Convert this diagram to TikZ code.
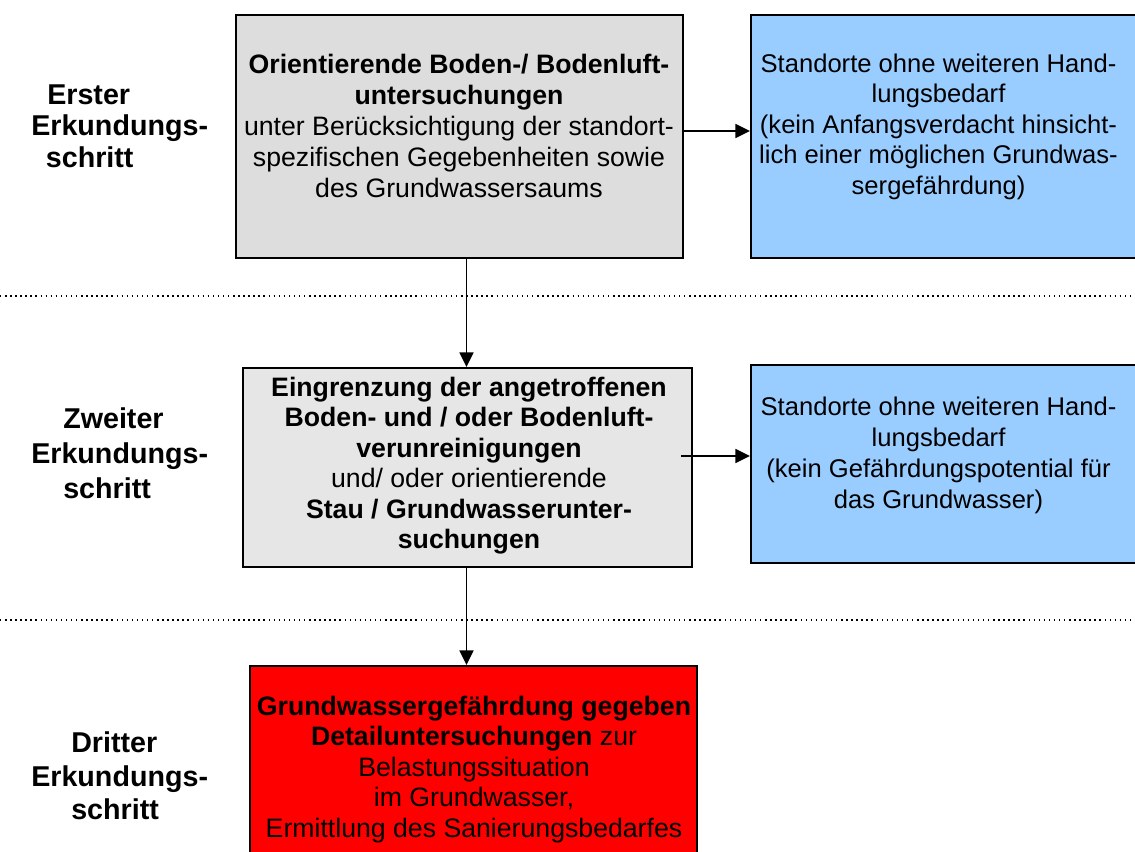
\documentclass[tikz,border=0pt]{standalone}
\usepackage{fontspec}
\setmainfont{Liberation Sans}
\usetikzlibrary{arrows.meta}
\definecolor{boxgrayA}{HTML}{DDDDDD}
\definecolor{boxgrayB}{HTML}{E6E6E6}
\definecolor{boxblue}{HTML}{99CCFF}
\definecolor{boxred}{HTML}{FF0000}
\tikzset{
  panel/.style={draw=black, line width=1.5pt, inner sep=0pt, rectangle},
  boxtext/.style={inner sep=0pt, align=center, text=black},
  steplabel/.style={inner sep=0pt, align=left, anchor=west, font=\bfseries},
  arr/.style={line width=1.3pt, -{Triangle[length=11pt,width=10.5pt]}},
  dotline/.style={line width=1.1pt, dash pattern=on 1.1pt off 2.7pt}
}
\begin{document}
\begin{tikzpicture}[x=0.75pt,y=-0.75pt]
\clip (0,0) rectangle (1135,852);
\fill[white] (0,0) rectangle (1135,852);

% dotted separators
\draw[dotline] (0,296) -- (1135,296);
\draw[dotline] (0,620) -- (1135,620);

% boxes
\node[panel, fill=boxgrayA, minimum width=335.25pt, minimum height=182.25pt] (b1) at (459.5,136.5) {};
\node[panel, fill=boxblue, minimum width=295.5pt, minimum height=182.25pt] (b2) at (948,136.5) {};
\node[panel, fill=boxgrayB, minimum width=336.75pt, minimum height=149.25pt] (b3) at (467.5,467.5) {};
\node[panel, fill=boxblue, minimum width=295.5pt, minimum height=148.5pt] (b4) at (948,464) {};
\node[panel, fill=boxred, minimum width=335.25pt, minimum height=175.5pt] (b5) at (473.5,783) {};

% box texts
\node[boxtext, font=\fontsize{20pt}{23.1pt}\selectfont] (t1) at (459,126)
  {\textbf{Orientierende Boden-/ Bodenluft-}\\\textbf{untersuchungen}\\unter Berücksichtigung der standort-\\spezifischen Gegebenheiten sowie\\des Grundwassersaums};
\node[boxtext, font=\fontsize{19.2pt}{22.9pt}\selectfont] (t2) at (938.5,126.5)
  {Standorte ohne weiteren Hand-\\lungsbedarf\\(kein Anfangsverdacht hinsicht-\\lich einer möglichen Grundwas-\\sergefährdung)};
\node[boxtext, font=\fontsize{20pt}{22.9pt}\selectfont] (t3) at (469,465.5)
  {\textbf{Eingrenzung der angetroffenen}\\\textbf{Boden- und / oder Bodenluft-}\\\textbf{verunreinigungen}\\und/ oder orientierende\\\textbf{Stau / Grundwasserunter-}\\\textbf{suchungen}};
\node[boxtext, font=\fontsize{19.2pt}{23.2pt}\selectfont] (t4) at (938.5,455)
  {Standorte ohne weiteren Hand-\\lungsbedarf\\(kein Gefährdungspotential für\\das Grundwasser)};
\node[boxtext, font=\fontsize{20pt}{22.9pt}\selectfont] (t5) at (474,769.5)
  {\textbf{Grundwassergefährdung gegeben}\\\textbf{Detailuntersuchungen} zur\\Belastungssituation\\im Grundwasser,\\Ermittlung des Sanierungsbedarfes};

% step labels
\node[steplabel, font=\bfseries\fontsize{21.5pt}{23.6pt}\selectfont] (l1) at (31,126)
  {\hspace*{12pt}Erster\\Erkundungs-\\\hspace*{11pt}schritt};
\node[steplabel, font=\bfseries\fontsize{21.5pt}{26.25pt}\selectfont] (l2) at (31,453.5)
  {\hspace*{24pt}Zweiter\\Erkundungs-\\\hspace*{24pt}schritt};
\node[steplabel, font=\bfseries\fontsize{21.5pt}{25pt}\selectfont] (l3) at (31,776)
  {\hspace*{30pt}Dritter\\Erkundungs-\\\hspace*{30pt}schritt};

% connectors
\coordinate (vx) at (466.5,0);
\coordinate (hy1) at (0,131);
\coordinate (h2s) at (681,456);
\draw[arr] (b1.east |- hy1) -- (b2.west |- hy1);
\draw[arr] (h2s) -- (b4.west |- h2s);
\draw[arr] (b1.south -| vx) -- (b3.north -| vx);
\draw[arr] (b3.south -| vx) -- (b5.north -| vx);
\end{tikzpicture}
\end{document}
